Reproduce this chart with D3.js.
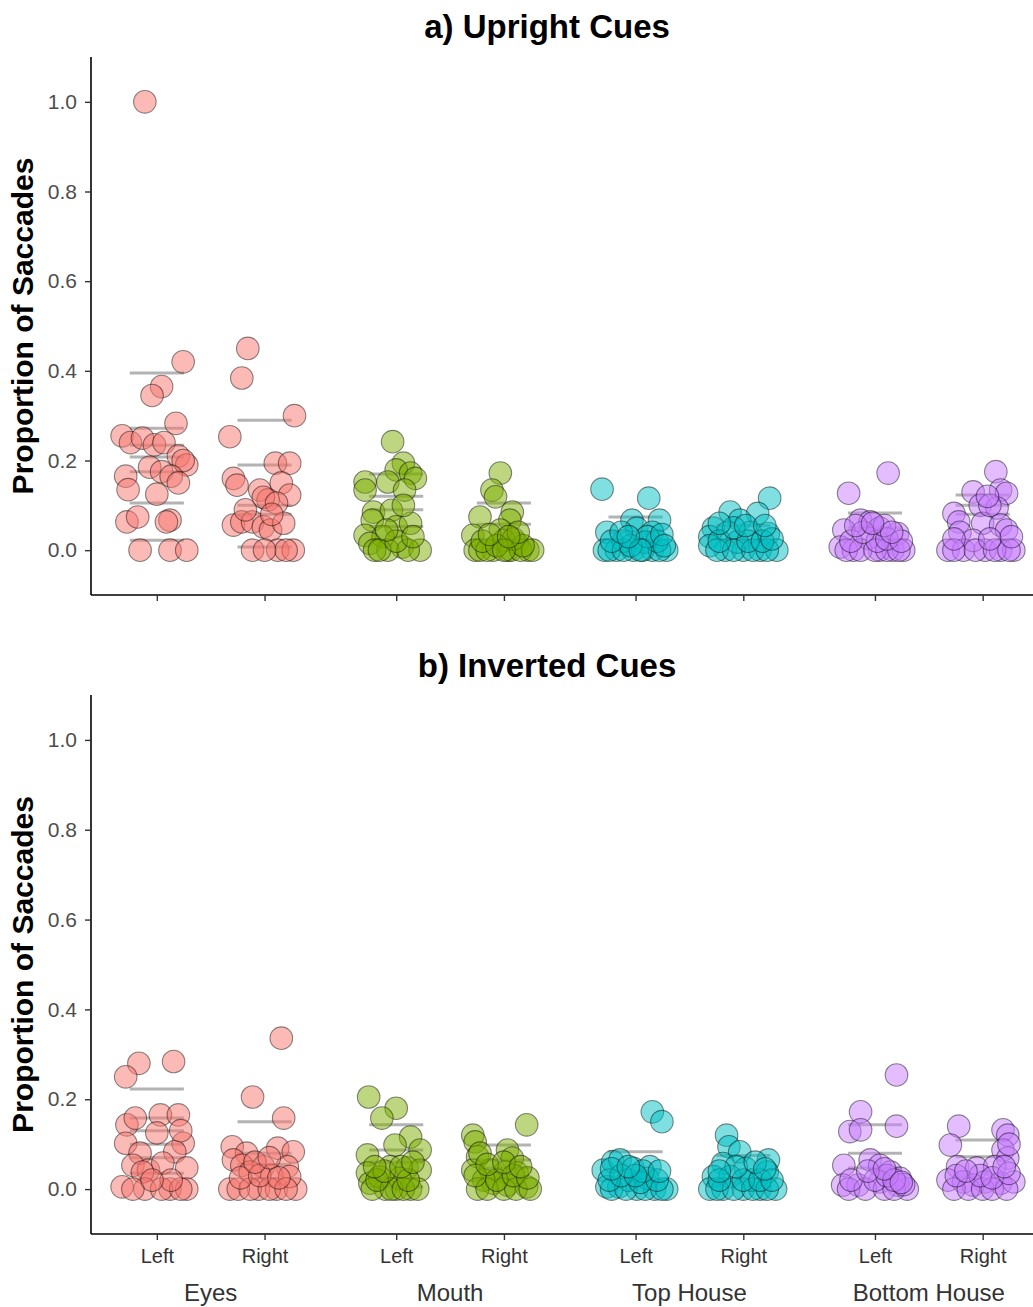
<!DOCTYPE html>
<html>
<head>
<meta charset="utf-8">
<script src="https://cdn.jsdelivr.net/npm/d3@7"></script>
<style>
  body { margin: 0; background: #fff; }
  text { font-family: "Liberation Sans", Arial, sans-serif; }
</style>
</head>
<body>
<svg id="chart"></svg>
<script>
// カテゴリ
const regions = ["Eyes", "Mouth", "Top House", "Bottom House"];
const sides = ["Left", "Right"];
const panelTitles = ["a) Upright Cues", "b) Inverted Cues"];
const yTicks = [0, 0.2, 0.4, 0.6, 0.8, 1.0];
const regionColors = ["#F8766D", "#7CAE00", "#00BFC4", "#C77CFF"];

// 各点 [jitter, proportion] (a) Upright
const upEyesL = [[-0.05,1.00],[0.11,0.42],[0.02,0.365],[-0.02,0.345],[0.08,0.283],[-0.145,0.255],[-0.11,0.24],[-0.06,0.25],[-0.01,0.235],[0.03,0.24],[0.09,0.21],[0.125,0.19],[0.11,0.20],[-0.13,0.165],[-0.03,0.185],[0.02,0.175],[0.06,0.165],[-0.12,0.135],[0.0,0.125],[0.09,0.15],[-0.125,0.063],[-0.08,0.074],[0.055,0.067],[0.04,0.063],[-0.07,0.0],[0.055,0.0],[0.125,0.0]];
const upEyesR = [[-0.07,0.45],[-0.095,0.384],[0.125,0.30],[-0.145,0.253],[0.045,0.194],[0.105,0.194],[-0.13,0.16],[-0.115,0.145],[-0.02,0.134],[0.07,0.15],[0.105,0.123],[0.015,0.112],[-0.005,0.118],[0.05,0.105],[-0.13,0.056],[-0.095,0.063],[-0.05,0.063],[-0.005,0.052],[0.025,0.045],[-0.05,0.0],[0.055,0.0],[0.12,0.0],[0.09,0.0],[0.0,0.0],[0.08,0.06],[-0.08,0.09],[0.03,0.08]];
const upMouthL = [[-0.015,0.242],[0.03,0.194],[0.0,0.179],[0.06,0.172],[0.08,0.16],[-0.13,0.152],[-0.13,0.134],[-0.035,0.152],[0.035,0.134],[-0.095,0.085],[-0.02,0.089],[-0.1,0.067],[0.0,0.052],[0.06,0.06],[-0.13,0.033],[-0.055,0.03],[-0.11,0.015],[0.025,0.007],[0.1,0.0],[-0.035,0.0],[-0.09,0.0],[-0.07,0.0],[0.05,0.0],[0.0,0.02],[-0.04,0.045],[0.07,0.03],[0.03,0.1]];
const upMouthR = [[-0.015,0.172],[-0.05,0.134],[-0.035,0.119],[0.035,0.085],[-0.1,0.074],[0.025,0.067],[-0.13,0.033],[-0.015,0.045],[-0.12,0.0],[-0.045,0.0],[0.015,0.0],[0.055,0.015],[0.1,0.0],[0.0,0.022],[-0.1,0.0],[-0.07,0.0],[0.03,0.0],[0.07,0.0],[0.12,0.0],[-0.09,0.02],[0.04,0.025],[0.08,0.01],[-0.03,0.01],[0.0,0.0],[-0.06,0.035],[0.06,0.04],[0.02,0.03]];
const upTopL = [[-0.14,0.136],[0.055,0.116],[-0.015,0.067],[0.1,0.067],[-0.12,0.04],[0.005,0.049],[0.07,0.04],[-0.13,0.0],[-0.08,0.0],[-0.01,0.0],[0.07,0.0],[0.13,0.0],[0.04,0.018],[-0.05,0.02],[-0.11,0.0],[-0.05,0.0],[0.03,0.0],[0.1,0.0],[-0.02,0.01],[0.09,0.02],[-0.1,0.02],[0.05,0.03],[-0.06,0.04],[0.11,0.035],[0.02,0.0],[-0.03,0.03],[0.12,0.01]];
const upTopR = [[0.11,0.116],[-0.055,0.085],[0.06,0.082],[-0.015,0.067],[-0.125,0.049],[-0.14,0.03],[-0.065,0.04],[0.03,0.04],[0.105,0.037],[-0.075,0.0],[0.0,0.0],[0.07,0.0],[0.14,0.0],[-0.14,0.01],[-0.025,0.018],[-0.11,0.0],[-0.04,0.0],[0.04,0.0],[0.1,0.0],[-0.1,0.02],[0.02,0.02],[0.08,0.02],[0.12,0.025],[-0.04,0.05],[0.01,0.055],[0.09,0.055],[-0.1,0.06]];
const upBottomL = [[0.055,0.172],[-0.11,0.127],[-0.06,0.067],[-0.02,0.063],[-0.13,0.045],[0.02,0.049],[0.095,0.037],[-0.145,0.007],[-0.09,0.0],[0.02,0.0],[0.075,0.0],[0.12,0.0],[-0.03,0.027],[-0.12,0.0],[-0.06,0.0],[0.0,0.0],[0.05,0.0],[0.1,0.0],[-0.1,0.02],[0.01,0.02],[0.05,0.025],[0.11,0.02],[-0.05,0.04],[0.04,0.055],[-0.08,0.055],[0.07,0.04],[-0.01,0.06]];
const upBottomR = [[0.055,0.175],[-0.04,0.13],[0.075,0.134],[0.1,0.127],[-0.01,0.1],[0.06,0.094],[-0.12,0.082],[-0.1,0.063],[0.0,0.06],[0.075,0.056],[-0.095,0.04],[0.1,0.045],[-0.145,0.0],[-0.08,0.0],[0.01,0.0],[0.075,0.0],[0.13,0.0],[-0.04,0.022],[-0.12,0.0],[-0.03,0.0],[0.05,0.0],[0.11,0.0],[-0.12,0.025],[0.03,0.025],[0.12,0.03],[0.03,0.1],[0.02,0.12]];

// (b) Inverted
const invEyesL = [[-0.075,0.28],[-0.13,0.25],[0.07,0.284],[-0.125,0.143],[-0.09,0.158],[0.015,0.165],[0.09,0.165],[0.0,0.125],[-0.13,0.102],[0.11,0.102],[-0.07,0.08],[0.075,0.083],[-0.1,0.053],[-0.035,0.042],[0.025,0.058],[0.125,0.047],[-0.06,0.038],[-0.145,0.005],[-0.05,0.0],[0.055,0.0],[0.125,0.0],[-0.1,0.0],[0.02,0.0],[0.1,0.0],[0.06,0.02],[-0.02,0.02],[0.1,0.13]];
const invEyesR = [[0.07,0.336],[-0.05,0.205],[0.08,0.158],[-0.135,0.094],[0.055,0.091],[0.12,0.083],[-0.075,0.08],[-0.13,0.065],[-0.095,0.053],[-0.005,0.05],[0.095,0.05],[-0.06,0.038],[0.03,0.03],[-0.145,0.0],[-0.025,0.0],[0.05,0.0],[0.13,0.0],[0.105,0.028],[-0.11,0.0],[-0.06,0.0],[0.02,0.0],[0.09,0.0],[-0.1,0.025],[-0.02,0.03],[0.06,0.025],[-0.04,0.06],[0.02,0.07]];
const invMouthL = [[-0.115,0.205],[0.0,0.18],[-0.06,0.158],[0.06,0.116],[-0.005,0.098],[0.1,0.087],[-0.12,0.076],[-0.12,0.036],[-0.025,0.05],[0.045,0.047],[0.1,0.042],[-0.11,0.013],[-0.045,0.0],[0.0,0.0],[0.06,0.0],[0.015,0.024],[-0.07,0.027],[-0.1,0.0],[-0.02,0.0],[0.03,0.0],[0.09,0.0],[-0.08,0.02],[0.05,0.02],[-0.05,0.04],[0.02,0.05],[-0.09,0.05],[0.07,0.06]];
const invMouthR = [[0.095,0.143],[-0.13,0.12],[-0.12,0.105],[0.015,0.087],[-0.11,0.072],[0.035,0.069],[-0.13,0.042],[-0.055,0.042],[0.005,0.038],[0.055,0.036],[-0.045,0.013],[0.015,0.009],[0.095,0.005],[-0.085,0.02],[-0.11,0.0],[-0.07,0.0],[0.0,0.0],[0.05,0.0],[0.11,0.0],[-0.12,0.03],[-0.03,0.02],[0.04,0.03],[0.1,0.025],[-0.1,0.08],[-0.07,0.055],[0.0,0.06],[0.07,0.05]];
const invTopL = [[0.07,0.172],[0.11,0.15],[-0.135,0.042],[-0.095,0.061],[-0.065,0.065],[-0.01,0.046],[0.06,0.05],[-0.12,0.005],[-0.07,0.005],[0.005,0.0],[0.08,0.0],[0.13,0.0],[-0.03,0.02],[0.05,0.024],[-0.1,0.0],[-0.04,0.0],[0.04,0.0],[0.11,0.0],[-0.11,0.02],[0.02,0.015],[0.09,0.02],[-0.06,0.03],[0.03,0.04],[0.1,0.04],[-0.1,0.045],[0.0,0.03],[-0.03,0.05]];
const invTopR = [[-0.07,0.12],[-0.06,0.094],[-0.015,0.083],[0.105,0.065],[-0.085,0.057],[0.01,0.046],[0.1,0.038],[-0.125,0.028],[-0.055,0.028],[-0.14,0.0],[-0.085,0.0],[0.0,0.0],[0.07,0.0],[0.135,0.0],[0.035,0.02],[-0.11,0.0],[-0.04,0.0],[0.04,0.0],[0.1,0.0],[-0.1,0.02],[0.0,0.02],[0.07,0.02],[0.12,0.02],[-0.03,0.05],[0.05,0.06],[-0.1,0.04],[0.09,0.045]];
const invBottomL = [[0.09,0.254],[-0.06,0.172],[-0.105,0.128],[-0.06,0.132],[0.09,0.14],[-0.13,0.053],[-0.02,0.065],[0.02,0.053],[0.065,0.038],[0.105,0.024],[-0.135,0.009],[-0.07,0.009],[0.02,0.016],[0.095,0.009],[0.135,0.0],[-0.11,0.0],[-0.04,0.0],[0.04,0.0],[0.08,0.0],[0.12,0.01],[-0.1,0.02],[0.0,0.02],[0.05,0.03],[0.08,0.02],[-0.03,0.04],[0.04,0.045],[0.11,0.015]];
const invBottomR = [[-0.1,0.14],[-0.135,0.098],[0.085,0.132],[0.105,0.12],[0.085,0.087],[0.105,0.069],[-0.105,0.05],[-0.025,0.047],[0.05,0.05],[-0.145,0.02],[-0.08,0.016],[0.01,0.016],[0.075,0.013],[0.13,0.016],[-0.04,0.009],[-0.12,0.0],[-0.06,0.0],[0.0,0.0],[0.04,0.0],[0.1,0.0],[-0.11,0.03],[-0.01,0.03],[0.04,0.025],[0.11,0.035],[0.09,0.05],[-0.07,0.04],[0.11,0.1]];

// 灰色の横線 (各グループ)
const upRefs = [[0.395,0.272,0.234,0.208,0.175,0.105,0.022],[0.29,0.19,0.10,0.08,0.007],[0.17,0.12,0.09,0.053],[0.105,0.058],[0.074,0.04],[0.055],[0.083,0.05],[0.123,0.1,0.08]];
const invRefs = [[0.223,0.158,0.13,0.1,0.07,0.035],[0.15,0.08,0.055],[0.143,0.087,0.06,0.005],[0.098,0.065,0.047],[0.083],[0.075],[0.143,0.08,0.047],[0.109,0.072]];

const upright = [upEyesL, upEyesR, upMouthL, upMouthR, upTopL, upTopR, upBottomL, upBottomR];
const inverted = [invEyesL, invEyesR, invMouthL, invMouthR, invTopL, invTopR, invBottomL, invBottomR];

const width = 1033, height = 1307;
const dodge = 0.225;

var svg = d3.select("#chart").attr("width", width).attr("height", height);

var x = d3.scaleLinear().domain([0.5, 4.5]).range([91, 1048.5]);

function catPos(i) {
    // i = region*2 + side
    return Math.floor(i / 2) + 1 + (i % 2 === 0 ? -dodge : dodge);
}

function drawPanel(groups, refs, title, top, bottom, titleY, showLabels) {
    var y = d3.scaleLinear().domain([-0.1, 1.1]).range([bottom, top]);
    var g = svg.append("g");

    // 灰色の線
    groups.forEach(function(pts, i) {
        g.selectAll(null)
            .data(refs[i])
            .enter().append("line")
            .attr("x1", x(catPos(i) - 0.113))
            .attr("x2", x(catPos(i) + 0.113))
            .attr("y1", function(d) { return y(d); })
            .attr("y2", function(d) { return y(d); })
            .attr("stroke", "#999")
            .attr("stroke-opacity", 0.75)
            .attr("stroke-width", 3);
    });

    // 点
    groups.forEach(function(pts, i) {
        var col = regionColors[Math.floor(i / 2)];
        g.selectAll(null)
            .data(pts)
            .enter().append("circle")
            .attr("cx", function(d) { return x(catPos(i) + d[0]); })
            .attr("cy", function(d) { return y(d[1]); })
            .attr("r", 11.3)
            .attr("fill", col)
            .attr("fill-opacity", 0.5)
            .attr("stroke", "#000")
            .attr("stroke-opacity", 0.45)
            .attr("stroke-width", 1.1);
    });

    // y軸
    var yAxis = d3.axisLeft(y).tickValues(yTicks).tickFormat(d3.format(".1f")).tickSize(6).tickPadding(8);
    var ya = svg.append("g").attr("transform", "translate(91,0)").call(yAxis);
    ya.select(".domain").attr("stroke", "#000").attr("stroke-width", 1.6).attr("d", "M0," + top + "V" + bottom);
    ya.selectAll(".tick line").attr("stroke", "#333").attr("stroke-width", 1.4);
    ya.selectAll(".tick text").attr("fill", "#4d4d4d").style("font-size", "21px");

    // x軸
    var xt = d3.range(8).map(catPos);
    var xAxis = d3.axisBottom(x).tickValues(xt).tickSize(6).tickPadding(9)
        .tickFormat(function(d, i) { return showLabels ? sides[i % 2] : ""; });
    var xa = svg.append("g").attr("transform", "translate(0," + bottom + ")").call(xAxis);
    xa.select(".domain").attr("stroke", "#000").attr("stroke-width", 1.6).attr("d", "M91,0H" + width);
    xa.selectAll(".tick line").attr("stroke", "#333").attr("stroke-width", 1.4);
    xa.selectAll(".tick text").attr("fill", "#333").style("font-size", "20px");

    if (showLabels) {
        svg.selectAll(null)
            .data(regions)
            .enter().append("text")
            .attr("x", function(d, i) { return x(i + 1); })
            .attr("y", bottom + 67)
            .attr("text-anchor", "middle")
            .attr("fill", "#333")
            .style("font-size", "24px")
            .text(function(d) { return d; });
    }

    // タイトル
    svg.append("text")
        .attr("x", 547)
        .attr("y", titleY)
        .attr("text-anchor", "middle")
        .style("font-size", "33px")
        .style("font-weight", "bold")
        .attr("fill", "#000")
        .text(title);

    // y軸ラベル
    svg.append("text")
        .attr("transform", "translate(33," + (top + bottom) / 2 + ") rotate(-90)")
        .attr("text-anchor", "middle")
        .style("font-size", "30px")
        .style("font-weight", "bold")
        .attr("fill", "#000")
        .text("Proportion of Saccades");
}

drawPanel(upright, upRefs, panelTitles[0], 57, 595, 38, false);
drawPanel(inverted, invRefs, panelTitles[1], 695, 1234, 677, true);
</script>
</body>
</html>
